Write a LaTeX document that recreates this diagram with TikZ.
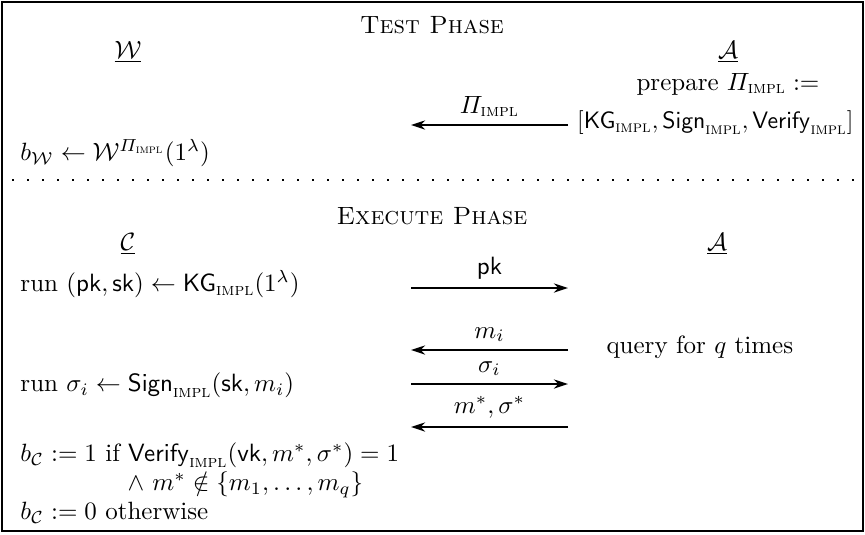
\documentclass[tikz,border=0pt]{standalone}
\usepackage{amsmath,amssymb}
\usepackage{tikz}
\usetikzlibrary{arrows.meta,positioning}
\newcommand{\impl}{\text{\textsc{impl}}}

\begin{document}
\begin{tikzpicture}[
  x=0.4pt,y=-0.4pt,
  party/.style={inner sep=0pt},
  line/.style={anchor=west,inner sep=0pt},
  msg/.style={-{Stealth[length=2mm,width=1.3mm]},semithick},
  lbl/.style={above,inner sep=3pt},
]
\useasboundingbox (0,0) rectangle (865,534);
\draw[semithick] (2,2) rectangle (863,531);
% test phase
\node[party] (test) at (432,25) {\textsc{Test Phase}};
\node[party] (w) at (128,52) {$\underline{\mathcal{W}}$};
\node[party] (a1) at (728,52) {$\underline{\mathcal{A}}$};
\node[party] (prep) at (728,84) {prepare $\varPi_{\impl} :=$};
\node[line,anchor=east,scale=0.95] (algs) at (854,123) {$[\mathsf{KG}_{\impl}, \mathsf{Sign}_{\impl}, \mathsf{Verify}_{\impl}]$};
\coordinate (t1) at (568,125);
\coordinate (t2) at (411,125);
\draw[msg] (t1) -- node[lbl] {$\varPi_{\impl}$} (t2);
\node[line] (bw) at (20,153) {$b_{\mathcal{W}} \leftarrow \mathcal{W}^{\varPi_{\impl}}(1^\lambda)$};
\coordinate (d1) at (12,180);
\coordinate (d2) at (860,180);
\draw[line width=0.8pt,dash pattern=on 0.8pt off 5.2pt] (d1) -- (d2);
% execute phase
\node[party] (exec) at (432,216) {\textsc{Execute Phase}};
\node[party] (c) at (128,244) {$\underline{\mathcal{C}}$};
\node[party] (a2) at (717,244) {$\underline{\mathcal{A}}$};
\node[line] (kg) at (20,284) {run $(\mathsf{pk},\mathsf{sk}) \leftarrow \mathsf{KG}_{\impl}(1^\lambda)$};
\coordinate (p1) at (411,288);
\coordinate (p2) at (568,288);
\draw[msg] (p1) -- node[lbl] {$\mathsf{pk}$} (p2);
\node[line] (query) at (606,347) {query for $q$ times};
\coordinate (q1) at (568,350);
\coordinate (q2) at (411,350);
\draw[msg] (q1) -- node[lbl] {$m_i$} (q2);
\node[line] (sign) at (20,385) {run $\sigma_i \leftarrow \mathsf{Sign}_{\impl}(\mathsf{sk}, m_i)$};
\coordinate (s1) at (411,384);
\coordinate (s2) at (568,384);
\draw[msg] (s1) -- node[lbl] {$\sigma_i$} (s2);
\coordinate (f1) at (568,427);
\coordinate (f2) at (411,427);
\draw[msg] (f1) -- node[lbl] {$m^*,\sigma^*$} (f2);
\node[line] (ver) at (20,455) {$b_{\mathcal{C}} := 1$ if $\mathsf{Verify}_{\impl}(\mathsf{vk}, m^*, \sigma^*) = 1$};
\node[line] (fresh) at (127,485) {$\wedge\ m^* \notin \{m_1,\ldots,m_q\}$};
\node[line] (zero) at (20,513) {$b_{\mathcal{C}} := 0$ otherwise};
\end{tikzpicture}
\end{document}
